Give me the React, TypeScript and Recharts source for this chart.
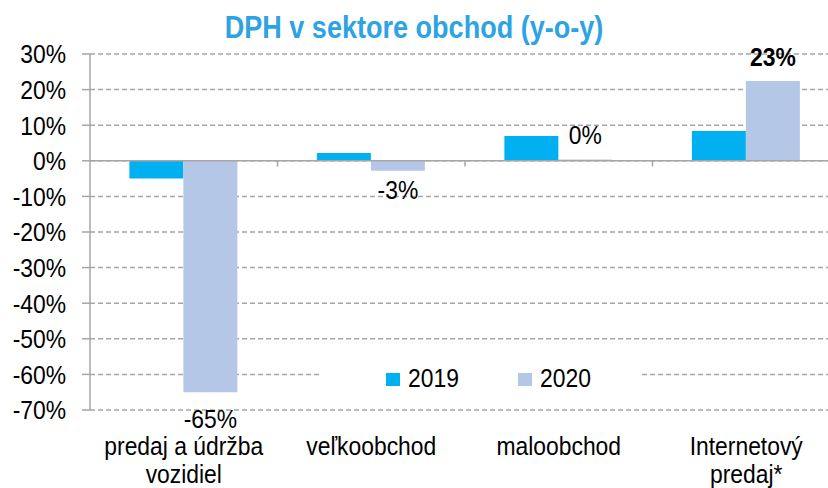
import { BarChart, Bar, XAxis, YAxis, CartesianGrid, ReferenceLine, LabelList } from 'recharts';

const categories = ['predaj a údržba\nvozidiel', 'veľkoobchod', 'maloobchod', 'Internetový\npredaj*'];
const values2019 = [-5.0, 2.2, 7.0, 8.4];
const values2020 = [-65.0, -2.8, 0.4, 22.4];
const labels2020 = ['-65%', '-3%', '0%', '23%'];
const yTicks = [-70, -60, -50, -40, -30, -20, -10, 0, 10, 20, 30];

const data = categories.map((name, i) => ({
  name,
  y2019: values2019[i],
  y2020: values2020[i],
}));

const FONT = '"Liberation Sans", Arial, sans-serif';
const FS = 26;
const SX = 0.88; // squeeze to look like Arial Narrow
const C2019 = '#00b0f0';
const C2020 = '#b4c7e7';
const GRID = '#a6a6a6';
const PLOT_BOTTOM = 410;

const NarrowText = ({ x, y, anchor = 'middle', bold = false, dy = 0, children }: any) => (
  <text
    transform={`translate(${x},${y}) scale(${SX},1)`}
    dy={dy}
    textAnchor={anchor}
    fontFamily={FONT}
    fontSize={FS}
    fontWeight={bold ? 'bold' : 'normal'}
    fill="#000"
  >
    {children}
  </text>
);

const CategoryTick = ({ x, y, payload }: any) => {
  const lines = String(payload.value).split('\n');
  return (
    <g>
      {lines.map((l, i) => (
        <NarrowText key={i} x={x} y={y + 45 + i * 28}>{l}</NarrowText>
      ))}
    </g>
  );
};

const ValueTick = ({ x, y, payload }: any) => (
  <NarrowText x={x} y={y} anchor="end" dy="0.36em">{`${payload.value}%`}</NarrowText>
);

const BarLabel = ({ x, y, width, height, value, index }: any) => {
  const top = Math.min(y, y + height);
  const bottom = Math.max(y, y + height);
  let base = value < 0 ? bottom + 28 : top - 15;
  // keep negative labels off the bottom gridline
  if (value < 0 && base - 19 < PLOT_BOTTOM && base > PLOT_BOTTOM) base = PLOT_BOTTOM + 18;
  return (
    <NarrowText x={x + width / 2} y={base} bold={index === 3}>
      {labels2020[index]}
    </NarrowText>
  );
};

const legendText = {
  position: 'absolute' as const,
  top: 4,
  fontFamily: FONT,
  fontSize: FS,
  lineHeight: '26px',
  transform: `scaleX(${SX})`,
  transformOrigin: 'left',
  color: '#000',
};

const LegendBox = () => (
  <div style={{ position: 'absolute', left: 322, top: 361, width: 320, height: 34, background: '#fff' }}>
    <span style={{ position: 'absolute', left: 64, top: 12, width: 14, height: 13, background: C2019 }} />
    <span style={{ ...legendText, left: 86 }}>2019</span>
    <span style={{ position: 'absolute', left: 196, top: 12, width: 14, height: 13, background: C2020 }} />
    <span style={{ ...legendText, left: 218 }}>2020</span>
  </div>
);

export default function App() {
  return (
    <div style={{ position: 'fixed', left: 0, top: 0, width: 828, height: 488, overflow: 'hidden', background: '#fff' }}>
      <BarChart
        width={840}
        height={488}
        data={data}
        margin={{ top: 54, right: 0, left: 0, bottom: 0 }}
        barCategoryGap="21%"
        barGap={0}
      >
        <CartesianGrid vertical={false} stroke={GRID} strokeDasharray="5 3" strokeWidth={1.5} />
        <XAxis
          dataKey="name"
          height={78}
          axisLine={false}
          tickLine={false}
          tickSize={0}
          tickMargin={0}
          interval={0}
          tick={<CategoryTick />}
        />
        <YAxis
          width={90}
          domain={[-70, 30]}
          ticks={yTicks}
          axisLine={{ stroke: GRID, strokeWidth: 1.5 }}
          tickLine={{ stroke: GRID, strokeWidth: 1.5 }}
          tickSize={8}
          tickMargin={16}
          tick={<ValueTick />}
          allowDataOverflow
        />
        <ReferenceLine y={0} stroke={GRID} strokeWidth={1.5} />
        {categories.slice(1).map((c) => (
          <ReferenceLine
            key={c}
            segment={[{ x: c, y: 0 }, { x: c, y: -1.6 }]}
            position="start"
            stroke={GRID}
            strokeWidth={1.5}
          />
        ))}
        <Bar dataKey="y2019" name="2019" fill={C2019} isAnimationActive={false} />
        <Bar dataKey="y2020" name="2020" fill={C2020} isAnimationActive={false}>
          <LabelList dataKey="y2020" content={<BarLabel />} />
        </Bar>
      </BarChart>
      <div
        style={{
          position: 'absolute', top: 11, left: 0, width: 828, textAlign: 'center',
          fontFamily: FONT, fontWeight: 'bold', fontSize: 32, lineHeight: '32px',
          color: '#2ea3e3', transform: 'scaleX(0.845)',
        }}
      >
        DPH v sektore obchod (y-o-y)
      </div>
      <LegendBox />
    </div>
  );
}
